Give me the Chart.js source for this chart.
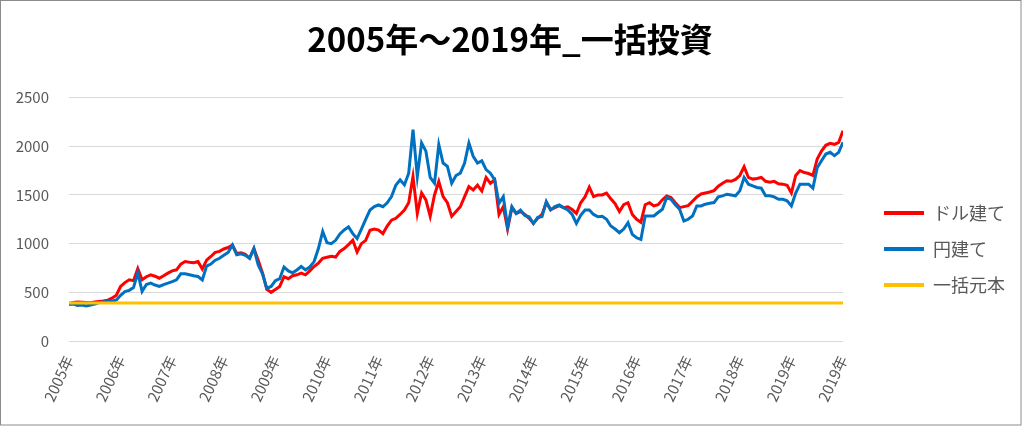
<!DOCTYPE html>
<html>
<head>
<meta charset="utf-8">
<script src="https://cdn.jsdelivr.net/npm/chart.js@4.4.1/dist/chart.umd.min.js"></script>
<style>
  html, body { margin: 0; padding: 0; background: #ffffff; }
  #wrap { width: 1024px; height: 426px; }
</style>
</head>
<body>
<div id="wrap"><canvas id="c" width="1024" height="426"></canvas></div>
<script>
// ---- data (monthly readings, Jan 2005 .. Dec 2019) ----
const yearTickLabels = ['2005年','2006年','2007年','2008年','2009年','2010年','2011年','2012年','2013年','2014年','2015年','2016年','2017年','2018年','2019年','2019年'];
const seriesNames = ['ドル建て', '円建て', '一括元本'];
const usdValues = [
  385,395,400,398,395,392,400,405,410,420,440,470,
  560,600,628,620,745,630,660,680,665,645,670,697,
  720,731,790,816,810,805,816,740,830,868,910,920,
  945,960,985,900,905,890,850,950,830,700,530,500,
  530,560,660,640,670,680,697,680,720,765,800,850,
  860,870,862,920,950,990,1034,914,1000,1034,1138,1150,
  1140,1103,1180,1241,1260,1300,1345,1420,1690,1310,1520,1450,
  1280,1500,1638,1483,1420,1280,1330,1379,1483,1586,1552,1600,
  1540,1680,1620,1655,1300,1380,1150,1370,1310,1330,1300,1260,
  1210,1260,1300,1420,1350,1370,1390,1370,1379,1350,1310,1420,
  1480,1580,1483,1500,1500,1520,1460,1410,1330,1400,1420,1300,
  1250,1220,1400,1420,1387,1400,1450,1490,1474,1420,1370,1380,
  1390,1435,1480,1510,1520,1530,1545,1590,1620,1646,1640,1660,
  1700,1790,1680,1663,1670,1680,1640,1630,1640,1615,1611,1600,
  1520,1700,1750,1730,1720,1700,1870,1950,2010,2030,2020,2040,2160
];
const jpyValues = [
  375,380,365,370,360,370,380,395,400,405,410,420,
  470,508,520,549,700,510,580,594,575,560,580,594,
  610,628,690,690,680,670,663,628,770,790,830,850,
  880,910,985,885,895,880,850,950,780,690,540,560,
  620,640,760,720,700,730,765,731,760,816,950,1125,
  1010,1000,1034,1100,1140,1172,1103,1052,1150,1250,1345,1380,
  1397,1379,1420,1483,1600,1655,1603,1724,2172,1690,2034,1950,
  1680,1620,2017,1828,1793,1620,1700,1724,1828,2034,1897,1828,
  1850,1760,1724,1655,1414,1483,1172,1379,1310,1345,1290,1276,
  1207,1270,1276,1431,1345,1380,1397,1370,1345,1300,1207,1290,
  1345,1345,1300,1276,1280,1250,1181,1150,1112,1150,1215,1095,
  1060,1043,1284,1284,1284,1320,1353,1474,1456,1400,1353,1233,
  1250,1284,1387,1387,1405,1415,1422,1480,1491,1508,1500,1491,
  1542,1680,1611,1594,1577,1570,1491,1491,1480,1456,1456,1440,
  1387,1520,1611,1611,1611,1570,1780,1852,1920,1938,1904,1938,2041
];
const principal = 390;
const yTicks = [0, 500, 1000, 1500, 2000, 2500];

// ---- build ----
const toPoints = arr => arr.map((v, i) => ({ x: i, y: v }));
const lastIdx = usdValues.length - 1;
const monthsPerTick = lastIdx / (yearTickLabels.length - 1);

const borderPlugin = {
  id: 'outerBorder',
  afterDraw(chart) {
    const ctx = chart.ctx;
    ctx.save();
    ctx.strokeStyle = '#8c8c8c';
    ctx.lineWidth = 1;
    ctx.strokeRect(0.5, 0.5, 1020.5, 424.5);
    ctx.restore();
  }
};
const boxShift = {
  id: 'boxShift',
  afterLayout(chart) {
    const lg = chart.legend;
    if (lg) { lg.left += 23; lg.right += 23; lg.top += 36; lg.bottom += 36; }
    const t = chart.titleBlock;
    if (t) { t.left += 14; t.right += 14; }
  }
};

new Chart(document.getElementById('c'), {
  type: 'line',
  data: {
    datasets: [
      { label: seriesNames[0], data: toPoints(usdValues), borderColor: '#FF0000', backgroundColor: '#FF0000', borderWidth: 3, pointRadius: 0, tension: 0, order: 2 },
      { label: seriesNames[1], data: toPoints(jpyValues), borderColor: '#0070C0', backgroundColor: '#0070C0', borderWidth: 3, pointRadius: 0, tension: 0, order: 1 },
      { label: seriesNames[2], data: [{ x: 0, y: principal }, { x: lastIdx, y: principal }], borderColor: '#FFC000', backgroundColor: '#FFC000', borderWidth: 3, pointRadius: 0, tension: 0, order: 0 }
    ]
  },
  options: {
    responsive: false,
    animation: false,
    layout: { padding: { left: 0, right: 32, top: 0, bottom: 0 } },
    plugins: {
      title: {
        display: true,
        text: '2005年～2019年_一括投資',
        color: '#000000',
        font: { family: '"Noto Sans CJK JP", "Noto Sans", sans-serif', size: 33, weight: 'bold' },
        padding: { top: 20, bottom: 38 }
      },
      legend: {
        position: 'right',
        labels: {
          boxWidth: 40,
          boxHeight: 4,
          padding: 18,
          color: '#595959',
          font: { family: '"Noto Sans CJK JP", sans-serif', size: 18 },
          generateLabels: (chart) => Chart.defaults.plugins.legend.labels.generateLabels(chart).map(l => Object.assign(l, { lineWidth: 0 })),
          sort: (a, b) => a.datasetIndex - b.datasetIndex
        }
      },
      tooltip: { enabled: false }
    },
    scales: {
      x: {
        type: 'linear',
        min: 0,
        max: lastIdx,
        grid: { display: false },
        border: { display: false },
        afterFit(scale) { scale.height = 85; },
        afterBuildTicks(scale) {
          scale.ticks = yearTickLabels.map((_, i) => ({ value: i * monthsPerTick }));
        },
        ticks: {
          autoSkip: false,
          minRotation: 65,
          maxRotation: 65,
          padding: 4,
          color: '#595959',
          font: { family: '"Noto Sans CJK JP", sans-serif', size: 15 },
          callback: (value, index) => yearTickLabels[index]
        }
      },
      y: {
        min: 0,
        max: 2500,
        afterBuildTicks(scale) {
          scale.ticks = yTicks.map(v => ({ value: v }));
        },
        afterFit(scale) { scale.width = 69; },
        grid: { color: '#d9d9d9', lineWidth: 1, drawTicks: false },
        border: { display: false },
        ticks: {
          padding: 20,
          color: '#595959',
          font: { family: '"Noto Sans CJK JP", sans-serif', size: 15 },
          callback: (value) => String(value)
        }
      }
    }
  },
  plugins: [borderPlugin, boxShift]
});
</script>
</body>
</html>
